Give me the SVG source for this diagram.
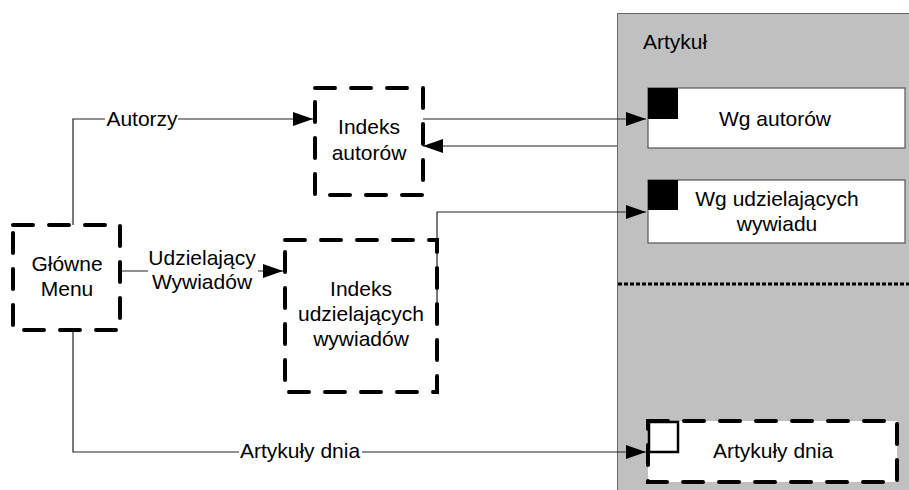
<svg xmlns="http://www.w3.org/2000/svg" width="909" height="490" viewBox="0 0 909 490">
<style>
text{font-family:"Liberation Sans",Arial,sans-serif;font-size:21px;fill:#000}
.c{text-anchor:middle}
.conn{fill:none;stroke:#222;stroke-width:1.2}
.dash{fill:#fff;stroke:#000;stroke-width:4;stroke-dasharray:20 16;stroke-linecap:round}
.box{fill:#fff;stroke:#555;stroke-width:1.2}
.lbg{fill:#fff;stroke:none}
</style>
<defs>
<marker id="ah" markerUnits="userSpaceOnUse" markerWidth="20" markerHeight="14" refX="20" refY="7" orient="auto">
<path d="M0,0 L20,7 L0,14 z" fill="#000"/>
</marker>
</defs>
<rect width="909" height="490" fill="#fff"/>
<g id="panel">
<rect x="617.5" y="13.5" width="300" height="490" fill="#c0c0c0" stroke="#666" stroke-width="1"/>
<text x="643" y="49">Artykuł</text>
<line x1="618" y1="284" x2="909" y2="284" stroke="#000" stroke-width="3" stroke-dasharray="4 2"/>
</g>
<g id="connectors">
<path class="conn" d="M73,225 V119 H313" marker-end="url(#ah)"/>
<path class="conn" d="M120,271 H283" marker-end="url(#ah)"/>
<path class="conn" d="M73,330 V452 H646" marker-end="url(#ah)"/>
<path class="conn" d="M423,119 H646" marker-end="url(#ah)"/>
<path class="conn" d="M617,146 H423" marker-end="url(#ah)"/>
<path class="conn" d="M437,310 V212 H646" marker-end="url(#ah)"/>
<rect class="lbg" x="105" y="108" width="73" height="22"/>
<text class="c" x="142" y="126">Autorzy</text>
<rect class="lbg" x="148" y="246" width="110" height="48"/>
<text class="c" x="202" y="265">Udzielający</text>
<text class="c" x="202" y="289">Wywiadów</text>
<rect class="lbg" x="239" y="440" width="123" height="24"/>
<text class="c" x="300" y="458">Artykuły dnia</text>
</g>
<g id="glowne-menu">
<rect class="dash" x="13" y="225" width="107" height="105"/>
<text class="c" x="67" y="271">Główne</text>
<text class="c" x="67" y="296">Menu</text>
</g>
<g id="indeks-autorow">
<rect class="dash" x="315" y="88" width="108" height="107"/>
<text class="c" x="369" y="134">Indeks</text>
<text class="c" x="369" y="160">autorów</text>
</g>
<g id="indeks-udzielajacych">
<rect class="dash" x="285" y="240" width="152" height="152" fill-opacity="0"/>
<text class="c" x="361" y="296">Indeks</text>
<text class="c" x="361" y="321">udzielających</text>
<text class="c" x="361" y="346">wywiadów</text>
</g>
<g id="wg-autorow">
<rect class="box" x="648" y="88" width="257" height="60"/>
<rect x="648" y="88" width="30" height="31" fill="#000"/>
<text class="c" x="775" y="126">Wg autorów</text>
</g>
<g id="wg-udzielajacych">
<rect class="box" x="648" y="180" width="257" height="63"/>
<rect x="648" y="180" width="30" height="30" fill="#000"/>
<text class="c" x="777" y="206">Wg udzielających</text>
<text class="c" x="777" y="231">wywiadu</text>
</g>
<g id="artykuly-dnia">
<rect class="dash" x="648" y="421" width="249" height="61" stroke-dasharray="24 14"/>
<rect x="649" y="422" width="29" height="30" fill="#fff" stroke="#000" stroke-width="2.5"/>
<text class="c" x="773" y="458">Artykuły dnia</text>
</g>
</svg>
